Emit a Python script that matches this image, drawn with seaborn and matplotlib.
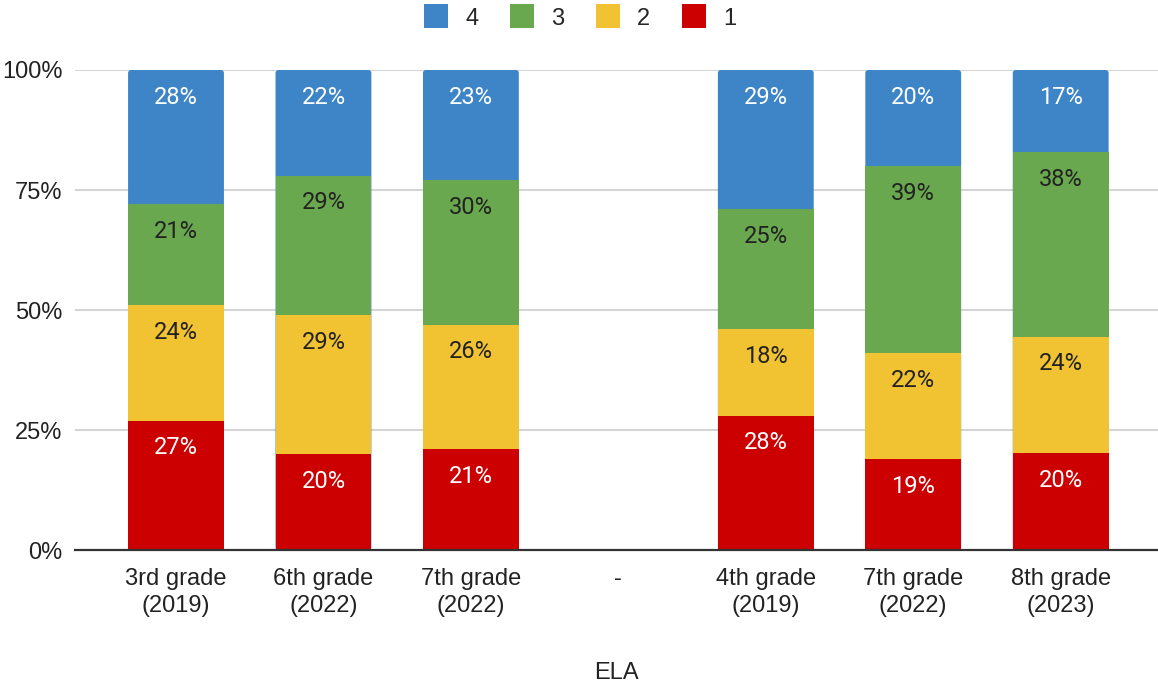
import matplotlib
matplotlib.use("Agg")
import matplotlib.pyplot as plt
from matplotlib.lines import Line2D
from matplotlib.patches import FancyBboxPatch
import numpy as np
import pandas as pd
import seaborn as sns

# Grade groups (the "-" slot is an empty separator between the two cohorts)
categories = ["3rd grade\n(2019)", "6th grade\n(2022)", "7th grade\n(2022)", "-",
              "4th grade\n(2019)", "7th grade\n(2022)", "8th grade\n(2023)"]
level_1 = [27, 20, 21, None, 28, 19, 20]
level_2 = [24, 29, 26, None, 18, 22, 24]
level_3 = [21, 29, 30, None, 25, 39, 38]
level_4 = [28, 22, 23, None, 29, 20, 17]
x_label = "ELA"

levels = ["1", "2", "3", "4"]
colors = {"1": "#cc0000", "2": "#f1c232", "3": "#6aa84f", "4": "#3d85c6"}
text_colors = {"1": "white", "2": "#222222", "3": "#222222", "4": "white"}

sns.set_theme(style="white")
plt.rcParams["font.family"] = ["Liberation Sans", "DejaVu Sans"]
LABEL_FONT = ["Roboto", "DejaVu Sans"]
FS = 17

rows = []
for i, cat in enumerate(categories):
    vals = [level_1[i], level_2[i], level_3[i], level_4[i]]
    if vals[0] is None:
        continue
    total = sum(vals)
    for lev, v in zip(levels, vals):
        rows.append({"pos": i, "level": lev, "value": v, "share": 100.0 * v / total})
df = pd.DataFrame(rows)
df["top"] = df.groupby("pos")["share"].cumsum()

W, H = 1158, 684
x0, y_base, y_top = 75, 550.3, 70
fig = plt.figure(figsize=(W / 100, H / 100), dpi=100)
ax = fig.add_axes([x0 / W, 1 - y_base / H, 1 - x0 / W, (y_base - y_top) / H])

order = list(range(len(categories)))
xlim = (-0.685, 6.66)
bar_w = 0.65
# Stack by overdrawing cumulative heights, tallest layer first
for k, lev in enumerate(reversed(levels)):
    sub = df[df["level"] == lev]
    n_before = len(ax.patches)
    sns.barplot(data=sub, x="pos", y="top", order=order, color=colors[lev],
                width=bar_w, saturation=1, linewidth=0, ax=ax, zorder=3)
    if k == 0:
        # round the top corners of the full-height bars
        px_x = (xlim[1] - xlim[0]) / (W - x0)
        px_y = 100.0 / (y_base - y_top)
        for p in list(ax.patches[n_before:]):
            if not np.isfinite(p.get_height()) or p.get_height() == 0:
                continue
            fb = FancyBboxPatch((p.get_x(), p.get_y()), p.get_width(), p.get_height(),
                                boxstyle=f"round,pad=0,rounding_size={3 * px_x}",
                                mutation_aspect=px_y / px_x,
                                facecolor=colors[lev], edgecolor="none", zorder=3)
            p.remove()
            ax.add_patch(fb)

for _, r in df.iterrows():
    ax.annotate(f"{r['value']:.0f}%", xy=(r["pos"], r["top"]), xytext=(0, -19.5),
                textcoords="offset points", ha="center", va="center",
                fontsize=17, family=LABEL_FONT, color=text_colors[r["level"]], zorder=5)

ax.set_ylim(0, 100)
ax.set_xlim(*xlim)
ax.set_yticks([0, 25, 50, 75, 100])
ax.set_yticklabels([f"{t}%" for t in [0, 25, 50, 75, 100]], fontsize=FS, color="#222222")
ax.set_xticks(order)
ax.set_xticklabels(categories, fontsize=FS, color="#222222")
for t in ax.get_xticklabels():
    t.set_linespacing(1.3)
ax.tick_params(axis="both", length=0)
ax.tick_params(axis="y", pad=9)
ax.tick_params(axis="x", pad=13)
ax.set_ylabel("")
ax.set_xlabel(x_label, fontsize=FS, color="#222222", labelpad=32)

ax.grid(axis="y", color="#cccccc", linewidth=1.2, zorder=0)
ax.set_axisbelow(True)
for s in ["top", "right", "left"]:
    ax.spines[s].set_visible(False)
ax.spines["bottom"].set_color("#333333")
ax.spines["bottom"].set_linewidth(1.6)
ax.spines["bottom"].set_zorder(6)

handles = [Line2D([0], [0], marker="s", linestyle="none", markersize=17,
                  markerfacecolor=colors[l], markeredgewidth=0) for l in reversed(levels)]
fig.legend(handles, list(reversed(levels)), loc="upper center", bbox_to_anchor=(0.5, 1.02),
           ncol=4, frameon=False, fontsize=FS, handletextpad=0.64, columnspacing=1.25,
           handlelength=1.2)

fig.savefig("out.png", dpi=100)
